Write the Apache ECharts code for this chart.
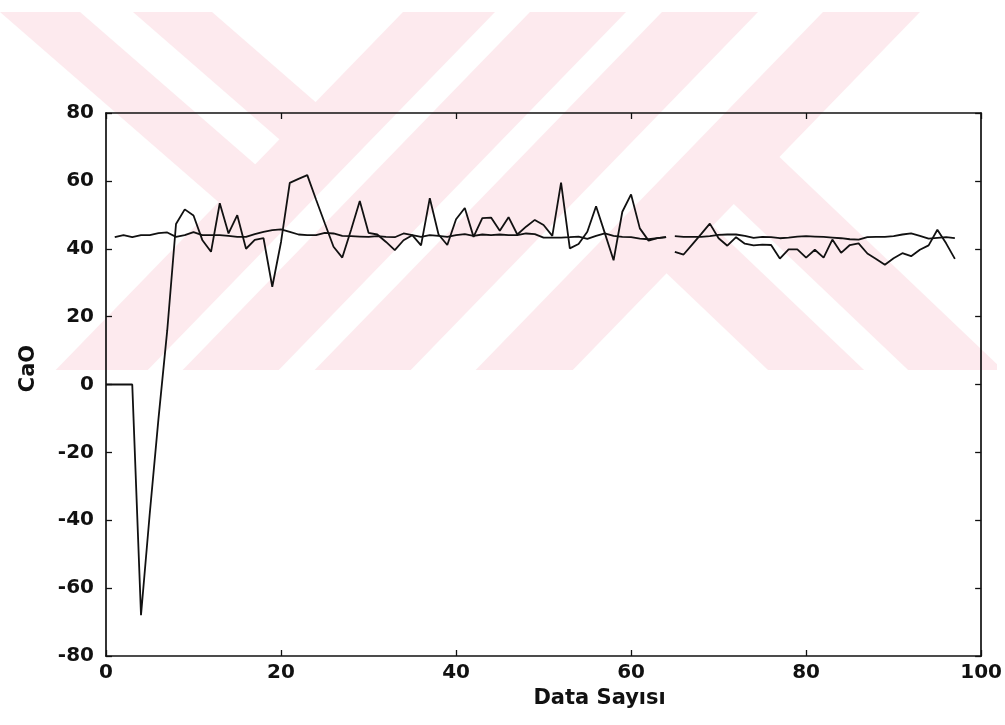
<!DOCTYPE html>
<html>
<head>
<meta charset="utf-8">
<title>CaO</title>
<script src="https://cdn.jsdelivr.net/npm/echarts@6/dist/echarts.min.js"></script>
<style>
  html, body { margin: 0; padding: 0; background: #ffffff; }
  #chart { width: 1005px; height: 725px; }
</style>
</head>
<body>
<div id="chart"></div>
<script>
// Measured CaO, samples 0..64, then 65..97 after the break in the record
const measuredRun1 = [
  0, 0, 0, 0, -68, -38, -10, 16, 47.3, 51.6,
  49.8, 42.6, 39.1, 53.4, 44.5, 49.9, 40.0, 42.6, 43.1, 28.8,
  42.0, 59.4, 60.6, 61.7, 54.5, 47.5, 40.6, 37.4, 45.5, 54.1,
  44.7, 44.2, 42.0, 39.6, 42.5, 44.0, 41.0, 54.9, 44.2, 41.1,
  48.7, 52.0, 43.5, 49.0, 49.2, 45.3, 49.3, 44.2, 46.5, 48.5,
  47.0, 43.8, 59.5, 40.1, 41.4, 45.0, 52.5, 44.6, 36.6, 50.9,
  56.0, 46.0, 42.4, 43.1, 43.4
];
const measuredRun2 = [
  39.1, 38.3, 41.3, 44.3, 47.4, 43.1, 40.9, 43.4, 41.5, 41.0,
  41.2, 41.1, 37.1, 39.8, 39.8, 37.4, 39.7, 37.4, 42.7, 38.8,
  41.1, 41.6, 38.6, 37.0, 35.3, 37.2, 38.7, 37.8, 39.7, 41.0,
  45.6, 41.6, 37.0
];
// Model estimate of CaO, samples 1..64 and 65..97
const modelRun1 = [
  43.4, 44.0, 43.4, 44.0, 44.0, 44.6, 44.8, 43.5, 44.0, 44.9,
  44.0, 44.0, 44.0, 43.8, 43.5, 43.5, 44.3, 45.0, 45.5, 45.7,
  45.0, 44.2, 44.0, 44.0, 44.7, 44.5, 43.8, 43.7, 43.6, 43.5,
  43.7, 43.5, 43.4, 44.5, 44.0, 43.5, 44.0, 43.8, 43.5, 44.0,
  44.3, 43.8, 44.2, 44.0, 44.2, 44.0, 44.0, 44.5, 44.3, 43.3,
  43.3, 43.3, 43.4, 43.6, 42.9, 43.8, 44.5, 43.8, 43.5, 43.4,
  43.0, 42.8, 43.1, 43.4
];
const modelRun2 = [
  43.7, 43.5, 43.5, 43.5, 43.7, 44.1, 44.2, 44.2, 43.8, 43.2,
  43.5, 43.4, 43.1, 43.3, 43.6, 43.7, 43.6, 43.5, 43.3, 43.1,
  42.8, 42.7, 43.4, 43.5, 43.5, 43.7, 44.2, 44.5, 43.8, 43.0,
  43.2, 43.4, 43.1
];
const run1Start = { measured: 0, model: 1 };
const run2Start = 65;
const xTickValues = [0, 20, 40, 60, 80, 100];
const yTickValues = [-80, -60, -40, -20, 0, 20, 40, 60, 80];

const toPoints = (values, start) => values.map((v, i) => [start + i, v]);

// ---- pale diagonal band pattern behind the plot ----
const PINK = '#fdeaee';
const BAND_TOP = 12, BAND_BOTTOM = 370, BAND_LEFT = 0, BAND_RIGHT = 997;
const SLOPE_DL = 0.97;   // bands leaning down-left
const SLOPE_DR = 1.15;   // left-hand bands leaning down-right
const SLOPE_DR2 = 1.05;  // right-hand bands leaning down-right

function clipHalf(pts, inside, cross) {
  const out = [];
  for (let i = 0; i < pts.length; i++) {
    const cur = pts[i], prev = pts[(i + pts.length - 1) % pts.length];
    const ci = inside(cur), pi = inside(prev);
    if (ci) { if (!pi) out.push(cross(prev, cur)); out.push(cur); }
    else if (pi) out.push(cross(prev, cur));
  }
  return out;
}
function clipRect(pts) {
  const atX = (a, b, x) => [x, a[1] + (b[1] - a[1]) * (x - a[0]) / (b[0] - a[0])];
  const atY = (a, b, y) => [a[0] + (b[0] - a[0]) * (y - a[1]) / (b[1] - a[1]), y];
  pts = clipHalf(pts, p => p[0] >= BAND_LEFT, (a, b) => atX(a, b, BAND_LEFT));
  pts = clipHalf(pts, p => p[0] <= BAND_RIGHT, (a, b) => atX(a, b, BAND_RIGHT));
  pts = clipHalf(pts, p => p[1] >= BAND_TOP, (a, b) => atY(a, b, BAND_TOP));
  pts = clipHalf(pts, p => p[1] <= BAND_BOTTOM, (a, b) => atY(a, b, BAND_BOTTOM));
  return pts;
}

function buildBands() {
  const H = BAND_BOTTOM - BAND_TOP;
  const polys = [];
  // full-height bands leaning down-left: [x at top, width]
  const dl = [[403, 92], [530, 96], [662, 96], [823, 97]];
  dl.forEach(([x, w]) => {
    polys.push([[x, BAND_TOP], [x + w, BAND_TOP],
                [x + w - SLOPE_DL * H, BAND_BOTTOM], [x - SLOPE_DL * H, BAND_BOTTOM]]);
  });
  // short bands from the top-left that run into the first band
  const stop1 = dl[0][0] + 4;
  [[0, 80], [133, 79]].forEach(([a, w]) => {
    const t1 = (stop1 - a) / (SLOPE_DR + SLOPE_DL);
    const t2 = (stop1 - a - w) / (SLOPE_DR + SLOPE_DL);
    polys.push([[a, BAND_TOP], [a + w, BAND_TOP],
                [a + w + SLOPE_DR * t2, BAND_TOP + t2], [a + SLOPE_DR * t1, BAND_TOP + t1]]);
  });
  // legs that leave the last band towards the lower right: [right edge x, at y, width]
  const stop4 = dl[3][0] + dl[3][1] - 4;
  const meet = (c, yr) => {
    const y = (stop4 + SLOPE_DL * BAND_TOP - c + SLOPE_DR2 * yr) / (SLOPE_DR2 + SLOPE_DL);
    return [c + SLOPE_DR2 * (y - yr), y];
  };
  [[1000, 367, 95], [863, 369, 96]].forEach(([xr, yr, w]) => {
    const pr = meet(xr, yr), pl = meet(xr - w, yr);
    const rb = xr + SLOPE_DR2 * (BAND_BOTTOM - yr);
    polys.push([pl, pr, [rb, BAND_BOTTOM], [rb - w, BAND_BOTTOM]]);
  });
  return polys.map(clipRect).filter(p => p.length > 2).map(points => ({
    type: 'polygon', silent: true, z: -10,
    shape: { points }, style: { fill: PINK }
  }));
}

// ---- chart ----
const INK = '#111111';
const labelFont = { fontFamily: 'DejaVu Sans', fontWeight: 'bold', fontSize: 20, color: INK };
const frameLine = { show: true, onZero: false, lineStyle: { color: INK, width: 1.7 } };
const tickIn = { show: true, inside: true, length: 6, lineStyle: { color: INK, width: 1.3 } };

function xAxisDef(position, withLabels) {
  return {
    type: 'value', position, min: xTickValues[0], max: xTickValues[xTickValues.length - 1],
    interval: xTickValues[1] - xTickValues[0],
    axisLine: frameLine, axisTick: tickIn, splitLine: { show: false },
    axisLabel: withLabels ? Object.assign({ margin: 7 }, labelFont) : { show: false },
    name: withLabels ? 'Data Sayısı' : '', nameLocation: 'middle', nameGap: 27,
    nameTextStyle: Object.assign({}, labelFont, { fontSize: 21, padding: [0, 0, 0, 112] })
  };
}
function yAxisDef(position, withLabels) {
  return {
    type: 'value', position, min: yTickValues[0], max: yTickValues[yTickValues.length - 1],
    interval: yTickValues[1] - yTickValues[0],
    axisLine: frameLine, axisTick: tickIn, splitLine: { show: false },
    axisLabel: withLabels ? Object.assign({ margin: 12 }, labelFont) : { show: false },
    name: withLabels ? 'CaO' : '', nameLocation: 'middle', nameGap: 67,
    nameTextStyle: Object.assign({}, labelFont, { fontSize: 21, padding: [0, 0, 0, 32] })
  };
}

const lineSeries = (data) => ({
  type: 'line', data, showSymbol: false, symbol: 'none', animation: false,
  lineStyle: { color: INK, width: 1.8 }, z: 3
});

const chart = echarts.init(document.getElementById('chart'), null, { renderer: 'canvas' });
chart.setOption({
  backgroundColor: '#ffffff',
  animation: false,
  grid: { left: 106, right: 21, top: 113, bottom: 69, containLabel: false },
  xAxis: [xAxisDef('bottom', true), xAxisDef('top', false)],
  yAxis: [yAxisDef('left', true), yAxisDef('right', false)],
  graphic: { elements: buildBands() },
  series: [
    lineSeries(toPoints(measuredRun1, run1Start.measured)),
    lineSeries(toPoints(measuredRun2, run2Start)),
    lineSeries(toPoints(modelRun1, run1Start.model)),
    lineSeries(toPoints(modelRun2, run2Start))
  ]
});
</script>
</body>
</html>
